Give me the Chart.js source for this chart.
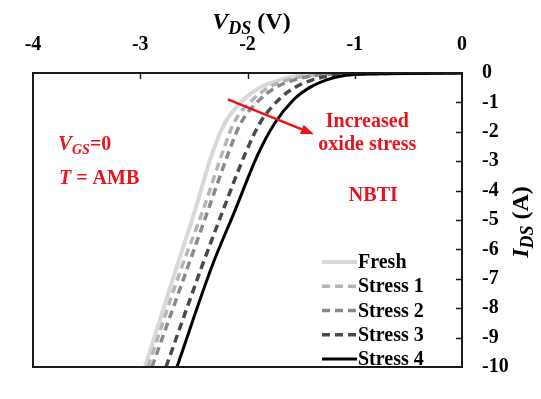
<!DOCTYPE html>
<html>
<head>
<meta charset="utf-8">
<script src="https://cdn.jsdelivr.net/npm/chart.js@4"></script>
<style>
  html, body { margin: 0; padding: 0; background: #fff; }
  #wrap { width: 541px; height: 399px; position: relative; }
</style>
</head>
<body>
<div id="wrap"><canvas id="c"></canvas></div>
<script>
// Drain current levels (A) at which each curve's V_DS was taken
const idsLevels = [-10, -6.58, -4.68, -2.77, -1.70, -0.90, -0.49, -0.24, -0.08, -0.03, 0];

// V_DS (V) of each curve at the current levels above
const vdsFresh   = [-2.956, -2.658, -2.490, -2.332, -2.211, -2.034, -1.884, -1.707, -1.493, -1.325, 0];
const vdsStress1 = [-2.928, -2.611, -2.416, -2.239, -2.127, -1.950, -1.801, -1.633, -1.418, -1.241, 0];
const vdsStress2 = [-2.891, -2.555, -2.369, -2.183, -2.062, -1.884, -1.735, -1.568, -1.363, -1.176, 0];
const vdsStress3 = [-2.760, -2.425, -2.229, -2.024, -1.884, -1.707, -1.558, -1.400, -1.204, -1.000, 0];
const vdsStress4 = [-2.658, -2.332, -2.117, -1.903, -1.745, -1.568, -1.418, -1.269, -1.083, -0.858, 0];

const seriesLabels = ['Fresh', 'Stress 1', 'Stress 2', 'Stress 3', 'Stress 4'];
const xTickValues = [-4, -3, -2, -1, 0];
const yTickValues = [0, -1, -2, -3, -4, -5, -6, -7, -8, -9, -10];

const SERIF = '"Liberation Serif", "Times New Roman", serif';
const RED = '#e8141c';

const styles = [
  { color: '#d8d8d8', width: 4,   dash: [] },
  { color: '#b5b5b5', width: 3.5, dash: [8, 5] },
  { color: '#8a8a8a', width: 3.5, dash: [8, 5] },
  { color: '#4a4a4a', width: 3.5, dash: [8, 5] },
  { color: '#000000', width: 3,   dash: [] }
];

const seriesV = [vdsFresh, vdsStress1, vdsStress2, vdsStress3, vdsStress4];

const datasets = seriesV.map((vals, i) => ({
  label: seriesLabels[i],
  data: vals.map((v, k) => ({ x: v, y: idsLevels[k] })),
  borderColor: styles[i].color,
  borderWidth: styles[i].width,
  borderDash: styles[i].dash,
  borderCapStyle: 'butt',
  pointRadius: 0,
  fill: false,
  showLine: true,
  cubicInterpolationMode: 'monotone',
  order: seriesV.length - i
}));

// Text runs with mixed italic / subscript pieces
function richWidth(ctx, parts) {
  let w = 0;
  parts.forEach(p => {
    ctx.font = (p.italic ? 'italic ' : '') + 'bold ' + p.size + 'px ' + SERIF;
    w += ctx.measureText(p.t).width;
  });
  return w;
}
function drawRich(ctx, parts, x, y, align, color) {
  let cx = x;
  if (align === 'center') cx = x - richWidth(ctx, parts) / 2;
  ctx.fillStyle = color;
  ctx.textBaseline = 'alphabetic';
  ctx.textAlign = 'left';
  parts.forEach(p => {
    ctx.font = (p.italic ? 'italic ' : '') + 'bold ' + p.size + 'px ' + SERIF;
    ctx.fillText(p.t, cx, y + (p.dy || 0));
    cx += ctx.measureText(p.t).width;
  });
}

const decorPlugin = {
  id: 'decor',
  afterDatasetsDraw(chart) {
    const { ctx, chartArea: a, scales } = chart;
    const xs = scales.x, ys = scales.y;
    ctx.save();

    // frame
    ctx.strokeStyle = '#1a1a1a';
    ctx.lineWidth = 2;
    ctx.setLineDash([]);
    ctx.strokeRect(a.left, a.top, a.right - a.left, a.bottom - a.top);

    // inward tick marks
    ctx.lineWidth = 1.5;
    xTickValues.forEach(v => {
      if (v === xs.min || v === xs.max) return;
      const px = Math.round(xs.getPixelForValue(v)) + 0.5;
      ctx.beginPath(); ctx.moveTo(px, a.top); ctx.lineTo(px, a.top + 6); ctx.stroke();
    });
    yTickValues.forEach(v => {
      if (v === ys.min || v === ys.max) return;
      const py = Math.round(ys.getPixelForValue(v)) + 0.5;
      ctx.beginPath(); ctx.moveTo(a.right, py); ctx.lineTo(a.right - 6, py); ctx.stroke();
    });

    // axis titles
    drawRich(ctx, [
      { t: 'V', italic: true, size: 24 },
      { t: 'DS', italic: true, size: 18, dy: 5 },
      { t: ' (V)', size: 24 }
    ], (a.left + a.right) / 2 + 4, 29, 'center', '#000');

    ctx.save();
    ctx.translate(a.right + 66, (a.top + a.bottom) / 2 + 2);
    ctx.rotate(-Math.PI / 2);
    drawRich(ctx, [
      { t: 'I', italic: true, size: 24 },
      { t: 'DS', italic: true, size: 18, dy: 5 },
      { t: ' (A)', size: 24 }
    ], 0, 0, 'center', '#000');
    ctx.restore();

    // annotations (placed in data coordinates)
    const P = (v, i) => [xs.getPixelForValue(v), ys.getPixelForValue(i)];
    let p = P(-3.767, -2.61);
    drawRich(ctx, [
      { t: 'V', italic: true, size: 21 },
      { t: 'GS', italic: true, size: 14, dy: 4 },
      { t: '=0', size: 20 }
    ], p[0], p[1], 'left', RED);
    p = P(-3.758, -3.79);
    drawRich(ctx, [
      { t: 'T', italic: true, size: 20 },
      { t: ' = AMB', size: 20 }
    ], p[0], p[1], 'left', RED);

    p = P(-0.883, -1.82);
    drawRich(ctx, [{ t: 'Increased', size: 20 }], p[0], p[1], 'center', RED);
    p = P(-0.883, -2.61);
    drawRich(ctx, [{ t: 'oxide stress', size: 20 }], p[0], p[1], 'center', RED);
    p = P(-0.827, -4.36);
    drawRich(ctx, [{ t: 'NBTI', size: 20 }], p[0], p[1], 'center', RED);

    // arrow
    const s = P(-2.183, -0.90), e = P(-1.381, -2.08);
    const ang = Math.atan2(e[1] - s[1], e[0] - s[0]);
    const hl = 13, hw = 5;
    const bx = e[0] - hl * Math.cos(ang), by = e[1] - hl * Math.sin(ang);
    ctx.strokeStyle = RED; ctx.fillStyle = RED; ctx.lineWidth = 2.5;
    ctx.beginPath(); ctx.moveTo(s[0], s[1]); ctx.lineTo(bx, by); ctx.stroke();
    ctx.beginPath();
    ctx.moveTo(e[0], e[1]);
    ctx.lineTo(bx + hw * Math.sin(ang), by - hw * Math.cos(ang));
    ctx.lineTo(bx - hw * Math.sin(ang), by + hw * Math.cos(ang));
    ctx.closePath(); ctx.fill();

    // legend
    const lx0 = a.right - 140, lx1 = a.right - 105, ly0 = a.top + 195;
    chart.data.datasets.forEach((d, i) => {
      const by2 = ly0 + i * 24.25;
      ctx.strokeStyle = d.borderColor;
      ctx.lineWidth = d.borderWidth;
      ctx.setLineDash(d.borderDash || []);
      ctx.beginPath(); ctx.moveTo(lx0, by2 - 6); ctx.lineTo(lx1, by2 - 6); ctx.stroke();
      ctx.setLineDash([]);
      drawRich(ctx, [{ t: d.label, size: 20 }], lx1 + 1, by2, 'left', '#000');
    });

    ctx.restore();
  }
};

new Chart(document.getElementById('c'), {
  type: 'scatter',
  data: { datasets },
  plugins: [decorPlugin],
  options: {
    responsive: true,
    maintainAspectRatio: false,
    animation: false,
    layout: { padding: { left: 33, right: 0, top: 0, bottom: 11 } },
    plugins: { legend: { display: false }, tooltip: { enabled: false } },
    scales: {
      x: {
        type: 'linear', position: 'top', min: -4, max: 0,
        afterBuildTicks: s => { s.ticks = xTickValues.map(v => ({ value: v })); },
        afterFit: s => { s.height = 73; },
        ticks: {
          autoSkip: false, maxRotation: 0, padding: 16, color: '#000',
          font: { family: SERIF, size: 20, weight: 'bold' },
          callback: v => String(v)
        },
        grid: { display: false, drawTicks: false },
        border: { display: false }
      },
      y: {
        type: 'linear', position: 'right', min: -10, max: 0,
        afterBuildTicks: s => { s.ticks = yTickValues.map(v => ({ value: v })); },
        afterFit: s => { s.width = 79; },
        ticks: {
          autoSkip: false, padding: 20, color: '#000',
          font: { family: SERIF, size: 20, weight: 'bold' },
          callback: v => String(v)
        },
        grid: { display: false, drawTicks: false },
        border: { display: false }
      }
    }
  }
});
</script>
</body>
</html>
